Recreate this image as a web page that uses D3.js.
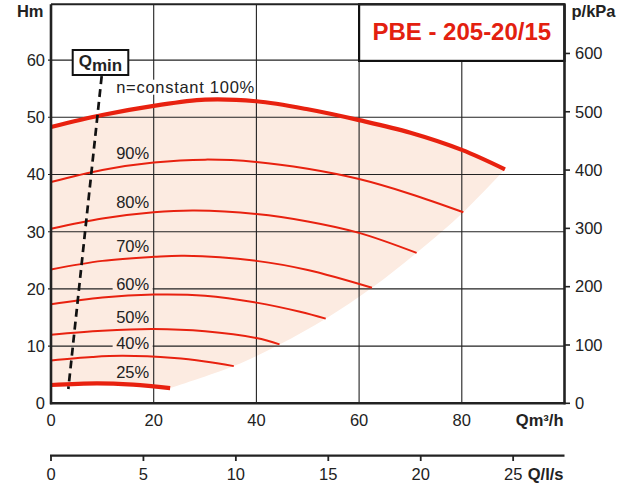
<!DOCTYPE html>
<html><head><meta charset="utf-8">
<script src="https://cdn.jsdelivr.net/npm/d3@7/dist/d3.min.js"></script>
<style>
html,body{margin:0;padding:0;background:#fff;}
svg{display:block;font-family:"Liberation Sans",Arial,Helvetica,sans-serif;}
</style></head>
<body>
<svg id="chart" width="635" height="486"></svg>
<script>
// ---- data ----
const qTicks = [0, 20, 40, 60, 80];
const hTicks = [0, 10, 20, 30, 40, 50, 60];
const pTicks = [0, 100, 200, 300, 400, 500, 600];
const lsTicks = [0, 5, 10, 15, 20, 25];
const speedLabels = ["90%", "80%", "70%", "60%", "50%", "40%", "25%"];
const labelH = [42.7, 34.2, 26.5, 19.8, 14.1, 9.5, 4.5];
const labelQ = 15.9;
const curve100 = [[0,48.3],[10,50.4],[20,52.0],[30,53.1],[40,52.8],[50,51.4],[60,49.5],[70,47.3],[80,44.3],[88.4,40.9]];
const curve90 = [[0,38.7],[10,40.8],[20,42.1],[30,42.6],[40,42.2],[50,41.0],[60,39.2],[70,36.6],[80.3,33.4]];
const curve80 = [[0,30.5],[10,32.3],[20,33.4],[28,33.7],[40,33.1],[50,31.8],[60,29.8],[71.2,26.3]];
const curve70 = [[0,23.4],[10,24.9],[20,25.6],[26,25.8],[40,24.9],[50,23.3],[62.5,20.2]];
const curve60 = [[0,17.3],[10,18.5],[20,19.0],[30,18.8],[40,17.6],[48.5,16.0],[53.5,14.8]];
const curve50 = [[0,12.0],[10,12.7],[20,13.0],[30,12.6],[40,11.4],[44.5,10.3]];
const curve40 = [[0,7.5],[8,8.1],[14,8.3],[24,7.9],[30,7.3],[35.6,6.5]];
const curve25 = [[0,3.2],[9,3.5],[16,3.25],[23.2,2.65]];
const envelope = [[88.4,40.9],[80.3,33.4],[71.2,26.3],[62.5,20.2],[53.5,14.8],[44.5,10.3],[35.6,6.5],[23.2,2.65]];
const qminLine = [[9.87,57.2],[3.37,2.5]];
const title = "PBE - 205-20/15";

// ---- scales ----
const x = d3.scaleLinear().domain([0, 100]).range([51, 564.5]);
const y = d3.scaleLinear().domain([0, 60]).range([403.3, 60.1]);
const yP = d3.scaleLinear().domain([0, 60 * 9.81]).range([403.3, 60.1]);
const xLs = d3.scaleLinear().domain([0, 100 / 3.6]).range([51, 564.5]);
const topY = 4.3;

const RED = "#e8210f", FILL = "#fcebe1", INK = "#222";
const svg = d3.select("#chart");
const line = d3.line().x(d => x(d[0])).y(d => y(d[1])).curve(d3.curveCatmullRom.alpha(0.5));

// ---- shaded operating area ----
const envPath = line(envelope).replace(/^M/, "L");
const c25rev = line(curve25.slice().reverse()).replace(/^M/, "L");
svg.append("path")
  .attr("d", line(curve100) + envPath + c25rev + "Z")
  .attr("fill", FILL).attr("stroke", "none");

// ---- grid ----
const g = svg.append("g").attr("stroke", INK).attr("stroke-width", 1.1);
g.selectAll("line.v").data(qTicks.filter(d => d > 0)).join("line")
  .attr("x1", d => x(d)).attr("x2", d => x(d)).attr("y1", y(0)).attr("y2", topY);
g.selectAll("line.h").data(hTicks.filter(d => d > 0)).join("line")
  .attr("x1", x(0) - 3).attr("x2", x(100)).attr("y1", d => y(d)).attr("y2", d => y(d));

// ---- curves ----
const thin = [curve90, curve80, curve70, curve60, curve50, curve40];
svg.selectAll("path.thin").data(thin).join("path")
  .attr("d", d => line(d)).attr("fill", "none").attr("stroke", RED).attr("stroke-width", 2);
svg.selectAll("path.thick").data([curve100, curve25]).join("path")
  .attr("d", d => line(d)).attr("fill", "none").attr("stroke", RED).attr("stroke-width", 4.2);

// ---- speed labels ----
const lab = svg.append("g").attr("font-size", 16.5).attr("fill", INK).attr("text-anchor", "middle");
speedLabels.forEach((t, i) => {
  const tx = x(labelQ), ty = y(labelH[i]);
  lab.append("rect").attr("x", tx - 20).attr("y", ty - 13).attr("width", 40).attr("height", 14).attr("fill", FILL);
  lab.append("text").attr("x", tx).attr("y", ty).text(t);
});
// n=constant label
svg.append("rect").attr("x", x(12.6)).attr("y", y(54.3) - 13).attr("width", 138).attr("height", 15).attr("fill", "#fff");
svg.append("text").attr("x", x(12.7)).attr("y", y(54.3)).attr("font-size", 16.5).attr("fill", INK)
  .attr("textLength", 138).text("n=constant 100%");

// ---- Qmin ----
svg.append("path").attr("d", d3.line().x(d => x(d[0])).y(d => y(d[1]))(qminLine))
  .attr("stroke", "#111").attr("stroke-width", 2.7).attr("stroke-dasharray", "8,5").attr("fill", "none");
svg.append("rect").attr("x", 72.7).attr("y", 50).attr("width", 55.6).attr("height", 25)
  .attr("fill", "#fff").attr("stroke", "#111").attr("stroke-width", 2);
const qm = svg.append("text").attr("x", 100.5).attr("y", 67.3).attr("text-anchor", "middle")
  .attr("font-weight", "bold").attr("fill", INK).attr("font-size", 17);
qm.append("tspan").text("Q");
qm.append("tspan").attr("dy", 3.5).attr("font-size", 17).text("min");

// ---- title box ----
svg.append("rect").attr("x", x(60)).attr("y", topY).attr("width", x(100) - x(60)).attr("height", y(60) - topY + 0.8)
  .attr("fill", "#fff").attr("stroke", "#111").attr("stroke-width", 2.2);
svg.append("text").attr("x", (x(60) + x(100)) / 2).attr("y", 40).attr("text-anchor", "middle")
  .attr("font-weight", "bold").attr("font-size", 24).attr("fill", "#e3200f").text(title);

// ---- frame ----
const fr = svg.append("g").attr("stroke", INK).attr("fill", "none");
fr.append("line").attr("x1", x(0)).attr("x2", x(100)).attr("y1", topY).attr("y2", topY).attr("stroke-width", 2);
fr.append("line").attr("x1", x(0)).attr("x2", x(0)).attr("y1", topY).attr("y2", y(0) + 1).attr("stroke-width", 2.6);
fr.append("line").attr("x1", x(100)).attr("x2", x(100)).attr("y1", topY).attr("y2", y(0) + 1).attr("stroke-width", 2.6);
fr.append("line").attr("x1", x(0) - 1).attr("x2", x(100) + 1).attr("y1", y(0)).attr("y2", y(0)).attr("stroke-width", 2.6);
// right ticks (kPa)
fr.selectAll("line.pt").data(pTicks).join("line")
  .attr("x1", x(100)).attr("x2", x(100) + 5.5).attr("y1", d => yP(d)).attr("y2", d => yP(d)).attr("stroke-width", 1.6);

// ---- tick labels ----
const tl = svg.append("g").attr("font-size", 16.5).attr("fill", INK);
tl.selectAll("text.l").data(hTicks).join("text")
  .attr("x", 45).attr("y", d => y(d) + 5.8).attr("text-anchor", "end").text(d => d);
tl.selectAll("text.r").data(pTicks).join("text")
  .attr("x", 575).attr("y", d => yP(d) + 5.8).attr("text-anchor", "start").text(d => d);
tl.selectAll("text.b").data(qTicks).join("text")
  .attr("x", d => x(d)).attr("y", 425.7).attr("text-anchor", "middle").text(d => d);
tl.selectAll("text.ls").data(lsTicks).join("text")
  .attr("x", d => xLs(d)).attr("y", 480).attr("text-anchor", "middle").text(d => d);

// ---- second (l/s) axis ----
const ax2 = svg.append("g").attr("stroke", INK);
ax2.append("line").attr("x1", xLs(0) - 1).attr("x2", x(100)).attr("y1", 455.7).attr("y2", 455.7).attr("stroke-width", 2.2);
ax2.selectAll("line.t").data(lsTicks).join("line")
  .attr("x1", d => xLs(d)).attr("x2", d => xLs(d)).attr("y1", 455.7).attr("y2", 461).attr("stroke-width", 1.8);

// ---- axis titles ----
const at = svg.append("g").attr("font-weight", "bold").attr("font-size", 16.5).attr("fill", INK);
at.append("text").attr("x", 43.5).attr("y", 17.3).attr("text-anchor", "end").text("Hm");
at.append("text").attr("x", 571.5).attr("y", 17.3).attr("text-anchor", "start").text("p/kPa");
at.append("text").attr("x", 563.5).attr("y", 425.7).attr("text-anchor", "end").text("Qm³/h");
at.append("text").attr("x", 563.5).attr("y", 480).attr("text-anchor", "end").text("Q/l/s");
</script>
</body></html>
